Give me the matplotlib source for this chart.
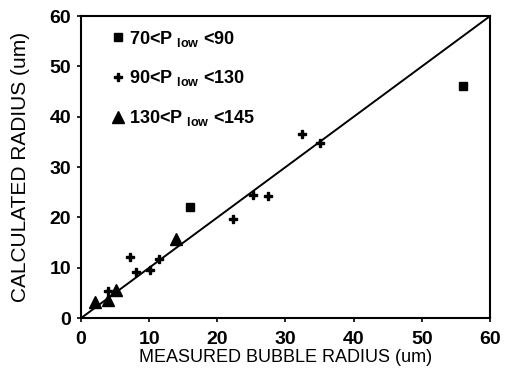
import matplotlib
matplotlib.use("Agg")
import matplotlib.pyplot as plt

sq_x = [16.0, 56.1]
sq_y = [22.0, 46.2]

plus_x = [3.9, 7.2, 8.0, 10.1, 11.4, 22.3, 25.3, 27.4, 32.4, 35.0]
plus_y = [5.4, 12.1, 9.1, 9.6, 11.7, 19.7, 24.4, 24.3, 36.5, 34.8]

tri_x = [2.0, 4.0, 5.1, 13.9]
tri_y = [3.2, 3.5, 5.5, 15.8]

labels = [r"70<P $_{\rm low}$ <90", r"90<P $_{\rm low}$ <130", r"130<P $_{\rm low}$ <145"]
ticks = [0, 10, 20, 30, 40, 50, 60]

plt.rcParams['font.family'] = ['Liberation Sans', 'DejaVu Sans']
plt.rcParams['mathtext.fontset'] = 'custom'
plt.rcParams['mathtext.rm'] = 'Liberation Sans:bold'

fig = plt.figure(figsize=(5.13, 3.76), dpi=100)
ax = fig.add_axes([0.158, 0.154, 0.797, 0.803])

ax.plot([0, 60], [0, 60], color='black', lw=1.4, zorder=1)
ax.plot(sq_x, sq_y, 's', color='black', ms=6, ls='none', label=labels[0], zorder=3)
ax.plot(plus_x, plus_y, 'P', color='black', ms=6, ls='none', label=labels[1], zorder=3)
ax.plot(tri_x, tri_y, '^', color='black', ms=8, ls='none', label=labels[2], zorder=3)

ax.set_xlim(0, 60)
ax.set_ylim(0, 60)
ax.set_xticks(ticks)
ax.set_yticks(ticks)
ax.set_xticklabels([str(t) for t in ticks], fontsize=14, fontweight='bold')
ax.set_yticklabels([str(t) for t in ticks], fontsize=14, fontweight='bold')
ax.tick_params(axis='x', direction='out', length=3, width=1.2, pad=6)
ax.tick_params(axis='y', direction='out', length=3, width=1.2, pad=4)
for s in ax.spines.values():
    s.set_linewidth(1.5)

ax.set_xlabel("MEASURED BUBBLE RADIUS (um)", fontsize=13, labelpad=1)
ax.set_ylabel("CALCULATED RADIUS (um)", fontsize=15, labelpad=14)

leg = ax.legend(loc='upper left', frameon=False, handlelength=0.6, handletextpad=0.3,
                labelspacing=1.1, borderaxespad=0.2, bbox_to_anchor=(0.05, 0.995),
                prop={'family': 'Liberation Sans', 'weight': 'bold', 'size': 13})

fig.savefig("out.png", dpi=100)
